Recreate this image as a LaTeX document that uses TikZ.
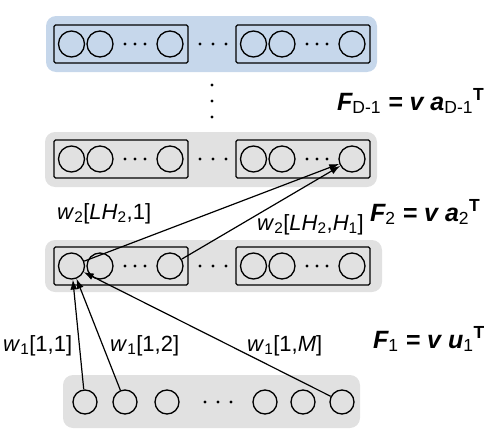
\documentclass[tikz,border=0pt]{standalone}
\usepackage{fontspec}
\setmainfont{Liberation Sans}
\usetikzlibrary{arrows.meta}
\definecolor{bandblue}{RGB}{198,215,235}
\definecolor{bandgray}{RGB}{225,225,225}

\begin{document}
\begin{tikzpicture}[x=1pt,y=-1pt,
    unit/.style={draw, circle, line width=1.3pt, minimum size=26pt, inner sep=0pt},
    inunit/.style={unit, minimum size=24pt},
    group/.style={draw, line width=1.2pt, rounded corners=1.5pt},
    wire/.style={line width=1.2pt, -{Latex[length=10pt,width=7pt]}},
    wlabel/.style={font=\fontsize{22}{26}\selectfont, inner sep=0pt, anchor=base west},
    eqlabel/.style={font=\fontsize{25}{30}\selectfont\bfseries\itshape, inner sep=0pt, anchor=base west}]
  \useasboundingbox (0,0) rectangle (496,434);

  % Layer bands
  \fill[bandblue, rounded corners=10pt] (46,16) rectangle (377,72);
  \fill[bandgray, rounded corners=10pt] (45,132) rectangle (377,187);
  \fill[bandgray, rounded corners=10pt] (45,240) rectangle (382,292);
  \fill[bandgray, rounded corners=10pt] (63,375) rectangle (360,428);

  % Hidden layers, two groups of units each
  \foreach \y/\r in {44/t,159/m,266/h}{
    \foreach \g/\dx in {a/0,b/182}{
      \draw[group] (54+\dx,\y-19) rectangle (188+\dx,\y+19);
      \node[unit] (\r\g1) at (71.5+\dx,\y) {};
      \node[unit] (\r\g2) at (100+\dx,\y) {};
      \node[unit] (\r\g3) at (170+\dx,\y) {};
      \foreach \d in {-10,0,10}
        \fill (135+\dx+\d,\y) circle (1.6pt);
    }
    \foreach \d in {-13,0,13}
      \fill (213+\d,\y) circle (1.6pt);
  }

  % Vertical dots
  \foreach \y in {85,101,117}
    \fill (212,\y) circle (1.6pt);

  % Input layer
  \foreach \i/\x in {1/85,2/125,3/167,4/265,5/303,6/342}
    \node[inunit] (in\i) at (\x,402) {};
  \foreach \d in {-13,0,13}
    \fill (218+\d,402) circle (1.6pt);

  % Connections
  \draw[wire] (ha1) -- (mb3);
  \draw[wire] (ha3) -- (mb3);
  \draw[wire] (in1) -- (ha1);
  \draw[wire] (in2) -- (ha1);
  \draw[wire] (in6) -- (ha1);

  % Weight labels
  \node[wlabel] (w2a) at (57,219) {\textit{w}\textsubscript{2}[\textit{LH}\textsubscript{2},1]};
  \node[wlabel] (w2b) at (257,230) {\textit{w}\textsubscript{2}[\textit{LH}\textsubscript{2},\textit{H}\textsubscript{1}]};
  \node[wlabel] (w11) at (3,351) {\textit{w}\textsubscript{1}[1,1]};
  \node[wlabel] (w12) at (110,351) {\textit{w}\textsubscript{1}[1,2]};
  \node[wlabel] (w1m) at (247,351) {\textit{w}\textsubscript{1}[1,\textit{M}]};

  % Layer functions
  \node[eqlabel] (fd) at (337,110) {F\textsubscript{\normalfont D-1} = v a\textsubscript{\normalfont D-1}\textsuperscript{\upshape T}};
  \node[eqlabel] (f2) at (370,221) {F\textsubscript{\normalfont 2} = v a\textsubscript{\normalfont 2}\textsuperscript{\upshape T}};
  \node[eqlabel] (f1) at (373,348) {F\textsubscript{\normalfont 1} = v u\textsubscript{\normalfont 1}\textsuperscript{\upshape T}};
\end{tikzpicture}
\end{document}
